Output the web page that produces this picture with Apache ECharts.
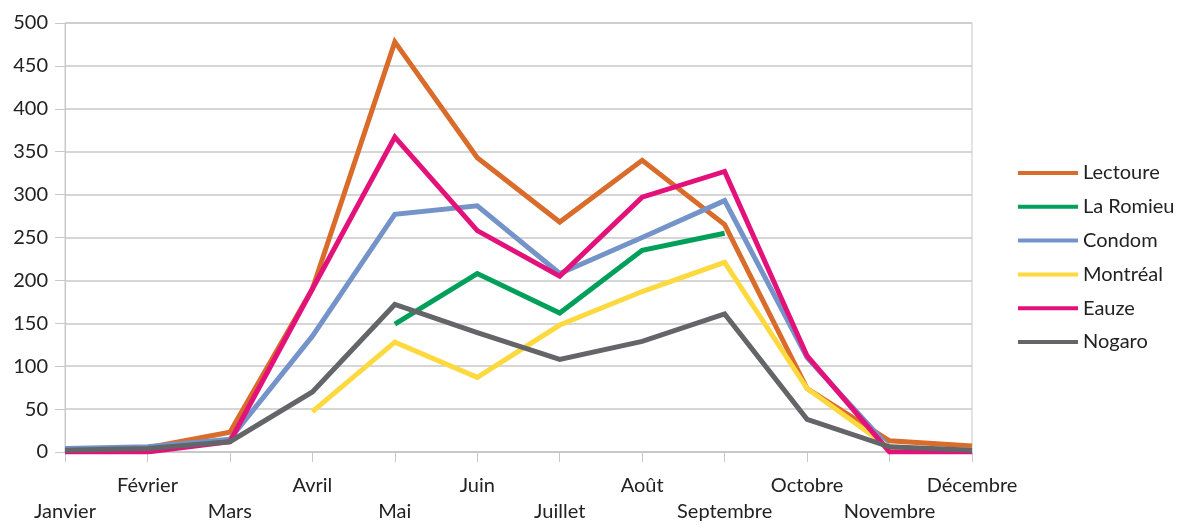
<!DOCTYPE html>
<html>
<head>
<meta charset="utf-8">
<script src="https://cdn.jsdelivr.net/npm/echarts@6/dist/echarts.min.js"></script>
<style>
  html, body { margin: 0; padding: 0; background: #fff; }
  #chart { width: 1184px; height: 525px; }
</style>
</head>
<body>
<div id="chart"></div>
<script>
// mois
const months = ['Janvier', 'Février', 'Mars', 'Avril', 'Mai', 'Juin', 'Juillet',
  'Août', 'Septembre', 'Octobre', 'Novembre', 'Décembre'];

// valeurs par ville (null = pas de donnée)
const lectoure = [2, 5, 23, 190, 478, 343, 268, 340, 265, 74, 13, 7];
const laRomieu = [null, null, null, null, 149, 208, 162, 235, 255, null, null, null];
const condom = [4, 6, 15, 135, 277, 287, 208, 250, 293, 110, 5, 2];
const montreal = [null, null, null, 47, 128, 87, 148, 187, 221, 74, 5, 2];
const eauze = [0, 0, 12, 190, 367, 258, 205, 297, 327, 112, 0, 0];
const nogaro = [2, 4, 12, 70, 172, 139, 108, 129, 161, 38, 6, 2];

const yTicks = { min: 0, max: 500, interval: 50 };

const seriesDefs = [
  { name: 'Lectoure', data: lectoure, color: '#D96B2B' },
  { name: 'La Romieu', data: laRomieu, color: '#00A05A' },
  { name: 'Condom', data: condom, color: '#7393C9' },
  { name: 'Montréal', data: montreal, color: '#FDD940' },
  { name: 'Eauze', data: eauze, color: '#E3127B' },
  { name: 'Nogaro', data: nogaro, color: '#646568' },
];

const font = 'Lato, "Open Sans", sans-serif';
const gridColor = '#c8c8c8';

const chart = echarts.init(document.getElementById('chart'));
chart.setOption({
  animation: false,
  textStyle: { fontFamily: font },
  grid: {
    left: 65, right: 212, top: 23, bottom: 71,
    show: true, borderColor: gridColor, borderWidth: 1,
  },
  legend: {
    orient: 'vertical',
    left: 1013,
    top: 158,
    icon: 'rect',
    itemWidth: 60,
    itemHeight: 4,
    itemGap: 13.8,
    textStyle: { fontSize: 20, color: '#222', fontFamily: font },
    data: seriesDefs.map(s => s.name),
  },
  xAxis: {
    type: 'category',
    boundaryGap: false,
    data: months,
    axisLine: { lineStyle: { color: gridColor, width: 2 } },
    axisTick: { show: true, length: 10, lineStyle: { color: gridColor } },
    axisLabel: {
      interval: 0,
      margin: 21,
      fontSize: 20,
      lineHeight: 26,
      color: '#222',
      fontFamily: font,
      formatter: (v, i) => (i % 2 === 0 ? '\n' + v : v),
    },
    splitLine: { show: false },
  },
  yAxis: {
    type: 'value',
    min: yTicks.min,
    max: yTicks.max,
    interval: yTicks.interval,
    axisLine: { show: true, lineStyle: { color: gridColor } },
    axisTick: { show: true, length: 10, lineStyle: { color: gridColor } },
    axisLabel: { fontSize: 20, color: '#222', margin: 17, fontFamily: font },
    splitLine: { lineStyle: { color: gridColor, width: 1.5 } },
  },
  series: seriesDefs.map(s => ({
    name: s.name,
    type: 'line',
    data: s.data,
    showSymbol: false,
    symbol: 'none',
    connectNulls: false,
    color: s.color,
    lineStyle: { width: 5, color: s.color, join: 'miter' },
  })),
});
</script>
</body>
</html>
